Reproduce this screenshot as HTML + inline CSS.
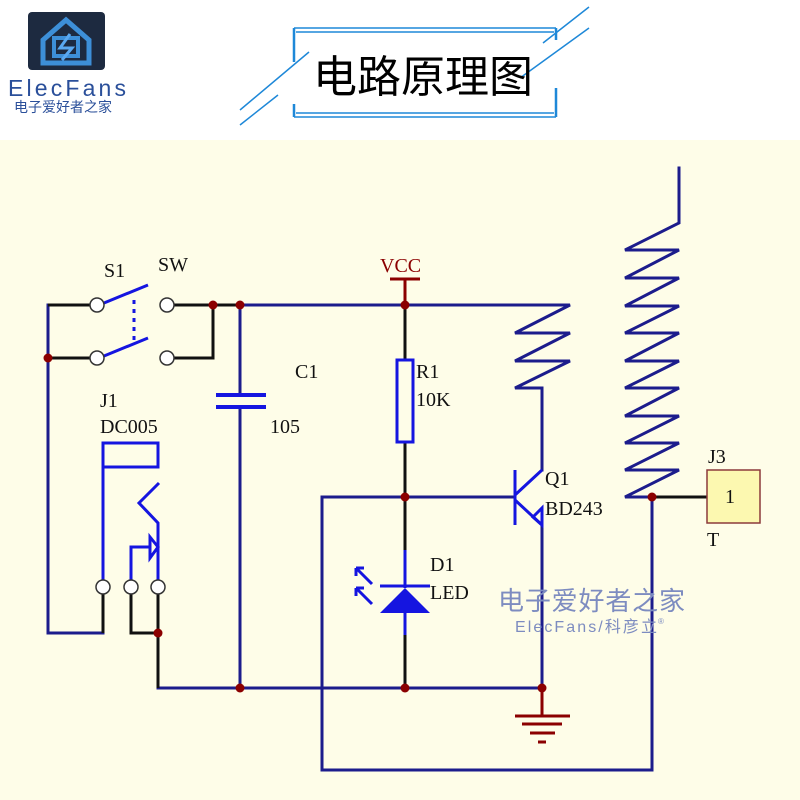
<!DOCTYPE html>
<html><head><meta charset="utf-8"><style>
html,body{margin:0;padding:0;background:#fff}
svg{display:block}
</style></head><body>
<svg width="800" height="800" viewBox="0 0 800 800" xmlns="http://www.w3.org/2000/svg">
<rect x="0" y="0" width="800" height="140" fill="#ffffff"/>
<rect x="0" y="140" width="800" height="660" fill="#fefde8"/>

<!-- logo -->
<rect x="28" y="12" width="77" height="58" rx="4" fill="#1d2a40"/>
<path d="M43 40 L66 20 L89 40 L89 63 L43 63 Z" fill="none" stroke="#3d8fd8" stroke-width="5"/>
<rect x="54" y="38" width="24" height="18" fill="none" stroke="#3d8fd8" stroke-width="4"/>
<path d="M70 34 L60 48 L72 48 L62 60" fill="none" stroke="#5aa8f0" stroke-width="3"/>
<text x="8" y="96" font-family="Liberation Sans, sans-serif" font-size="23" fill="#2a4f9a" textLength="118" lengthAdjust="spacing">ElecFans</text>
<text x="14" y="112" font-family="Liberation Sans, Noto Sans CJK SC, sans-serif" font-size="14" fill="#2a4f9a">电子爱好者之家</text>

<!-- title box -->
<g stroke="#1e88d8" fill="none">
<path d="M294 28 H556 M296 32 H554" stroke-width="1.5"/>
<path d="M294 117 H556 M296 113 H554" stroke-width="1.5"/>
<path d="M294 28 V62 M294 104 V117 M556 28 V40 M556 88 V117" stroke-width="2.5"/>
<path d="M240 110 L309 52 M240 125 L278 95 M543 43 L589 7 M520 78 L589 28" stroke-width="1.5"/>
</g>
<text x="313" y="92" font-family="Liberation Sans, Noto Sans CJK SC, sans-serif" font-size="44" fill="#000">电路原理图</text>

<!-- wires navy -->
<g stroke="#1c1c8c" stroke-width="3" fill="none" stroke-linecap="square">
<path d="M48 305 V633 H103"/>
<path d="M240 305 H570 L515 333 H570 L515 361 H570 L515 388 H542 V470"/>
<path d="M240 305 V395 M240 407 V688"/>
<path d="M158 688 H542"/>
<path d="M542 525 V688"/>
<path d="M405 497 H322 V770 H652 V497"/>
<path d="M405 497 H515"/>
<path d="M679 168 V223 L625 250 H679 L625 278 H679 L625 306 H679 L625 333 H679 L625 361 H679 L625 388 H679 L625 416 H679 L625 443 H679 L625 470 H679 L625 497 H652"/>
</g>
<g stroke="#111" stroke-width="3" fill="none">
<path d="M48 305 H90 M48 358 H90 M174 305 H213 V358 H174 M213 305 H240"/>
<path d="M405 305 V360 M405 442 V550 M405 635 V688"/>
<path d="M652 497 H707"/>
<path d="M103 594 V633 M131 594 V633 H158 M158 594 V688"/>
</g>

<!-- switch -->
<g stroke="#1515e0" stroke-width="3" fill="none">
<path d="M104 303 L148 285 M104 356 L148 338"/>
<path d="M134 300 V342" stroke-dasharray="4 5"/>
</g>
<g stroke="#333" stroke-width="1.5" fill="#fff">
<circle cx="97" cy="305" r="7"/><circle cx="97" cy="358" r="7"/>
<circle cx="167" cy="305" r="7"/><circle cx="167" cy="358" r="7"/>
</g>

<!-- C1 plates -->
<path d="M216 395 H266 M216 407 H266" stroke="#1515e0" stroke-width="4"/>

<!-- R1 -->
<rect x="397" y="360" width="16" height="82" fill="none" stroke="#1515e0" stroke-width="3"/>

<!-- transistor -->
<g stroke="#1515e0" stroke-width="3" fill="none">
<path d="M515 470 V525 M515 495 L542 470 M515 500 L542 525"/>
<path d="M533 517 L542 508 L542 525 Z"/>
</g>

<!-- LED -->
<g stroke="#1515e0" stroke-width="3" fill="none">
<path d="M405 550 V588 M405 612 V635"/>
<path d="M380 586 H430"/>
<path d="M372 584 L356 568 M356 568 V576 M356 568 H364"/>
<path d="M372 604 L356 588 M356 588 V596 M356 588 H364"/>
</g>
<path d="M380 613 L430 613 L405 588 Z" fill="#1515e0"/>

<!-- J1 -->
<g stroke="#1515e0" stroke-width="3" fill="none">
<path d="M103 580 V443 H158 V467 H103"/>
<path d="M159 483 L139 503 L158 523 V580"/>
<path d="M131 580 V547 H150"/>
<path d="M150 537 L158 547 L150 558 Z"/>
</g>
<g stroke="#333" stroke-width="1.5" fill="#fff">
<circle cx="103" cy="587" r="7"/><circle cx="131" cy="587" r="7"/><circle cx="158" cy="587" r="7"/>
</g>

<!-- VCC & ground -->
<g stroke="#8b0000" stroke-width="3" fill="none">
<path d="M390 279 H420 M405 279 V305"/>
<path d="M542 688 V716 M515 716 H570 M522 724 H562 M530 733 H555 M538 742 H546"/>
</g>

<!-- J3 box -->
<rect x="707" y="470" width="53" height="53" fill="#fcf8b0" stroke="#8b3a3a" stroke-width="1.5"/>

<!-- junction dots -->
<g fill="#8b0000">
<circle cx="48" cy="358" r="4.5"/><circle cx="213" cy="305" r="4.5"/><circle cx="240" cy="305" r="4.5"/>
<circle cx="405" cy="305" r="4.5"/><circle cx="405" cy="497" r="4.5"/><circle cx="652" cy="497" r="4.5"/>
<circle cx="158" cy="633" r="4.5"/><circle cx="240" cy="688" r="4.5"/><circle cx="405" cy="688" r="4.5"/>
<circle cx="542" cy="688" r="4.5"/>
</g>

<!-- labels -->
<g font-family="Liberation Serif, serif" font-size="20" fill="#111">
<text x="104" y="277">S1</text>
<text x="158" y="271">SW</text>
<text x="100" y="407">J1</text>
<text x="100" y="433">DC005</text>
<text x="295" y="378">C1</text>
<text x="270" y="433">105</text>
<text x="416" y="378">R1</text>
<text x="416" y="406">10K</text>
<text x="545" y="485">Q1</text>
<text x="545" y="515">BD243</text>
<text x="430" y="571">D1</text>
<text x="430" y="599">LED</text>
<text x="708" y="463">J3</text>
<text x="707" y="546">T</text>
<text x="725" y="503">1</text>
</g>
<text x="380" y="272" font-family="Liberation Serif, serif" font-size="20" fill="#8b0000">VCC</text>

<!-- watermark -->
<text x="498" y="610" font-family="Liberation Sans, Noto Sans CJK SC, sans-serif" font-size="26" fill="#7d8cc0" textLength="187">电子爱好者之家</text>
<text x="515" y="632" font-family="Liberation Sans, Noto Sans CJK SC, sans-serif" font-size="16" fill="#7d8cc0" textLength="142" lengthAdjust="spacing">ElecFans/科彦立</text>
<text x="658" y="624" font-family="Liberation Sans, sans-serif" font-size="8" fill="#7d8cc0">®</text>
</svg>
</body></html>
